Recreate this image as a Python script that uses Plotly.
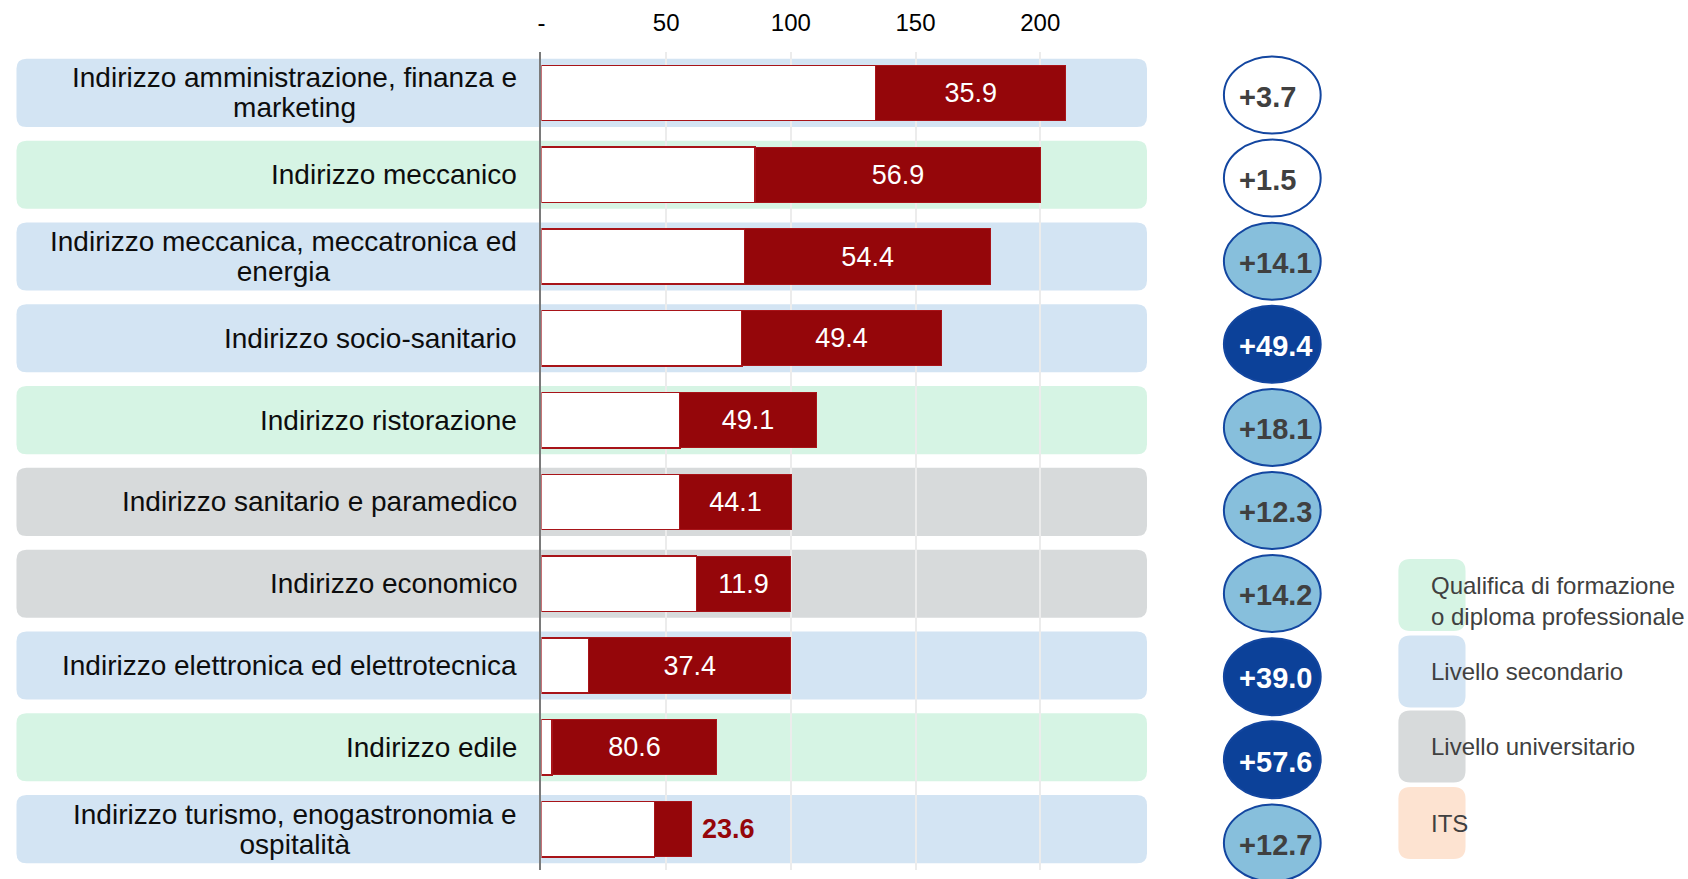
import plotly.graph_objects as go

# ---------------- data ----------------
categories = [
    "Indirizzo amministrazione, finanza e<br>marketing",
    "Indirizzo meccanico",
    "Indirizzo meccanica, meccatronica ed<br>energia",
    "Indirizzo socio-sanitario",
    "Indirizzo ristorazione",
    "Indirizzo sanitario e paramedico",
    "Indirizzo economico",
    "Indirizzo elettronica ed elettrotecnica",
    "Indirizzo edile",
    "Indirizzo turismo, enogastronomia e<br>ospitalità",
]
levels = ["sec", "qual", "sec", "sec", "qual", "univ", "univ", "sec", "qual", "sec"]
white_vals = [134.1, 85.7, 81.5, 80.4, 55.5, 55.5, 62.1, 18.9, 4.3, 45.3]
red_vals = [76.1, 114.6, 98.6, 79.9, 54.6, 44.6, 37.9, 81.1, 66.0, 14.9]
pct_labels = [35.9, 56.9, 54.4, 49.4, 49.1, 44.1, 11.9, 37.4, 80.6, 23.6]
variation = [3.7, 1.5, 14.1, 49.4, 18.1, 12.3, 14.2, 39.0, 57.6, 12.7]
tick_vals = [0, 50, 100, 150, 200]
tick_text = ["-", "50", "100", "150", "200"]

legend_keys = ["qual", "sec", "univ", "its"]
legend_labels = [
    "Qualifica di formazione<br>o diploma professionale",
    "Livello secondario",
    "Livello universitario",
    "ITS",
]

# ---------------- styles ----------------
W, H = 1688, 879
FONT = "Arial, Liberation Sans, sans-serif"
DARK_RED = "#95060a"
level_colors = {"qual": "#d6f4e4", "sec": "#d3e4f3", "univ": "#d7dadb", "its": "#fde3d1"}

X0_PX, X1_PX = 538.7, 1145.7      # plot area (zero at X0)
PX_PER_UNIT = 2.5
Y_TOP, Y_BOT = 52, 870
CIRCLE_STEP = 83.1

n = len(categories)
idx = list(range(n))


def rounded_path(x0, x1, y0, y1, rx, ry):
    return (f"M {x0+rx},{y0} L {x1-rx},{y0} Q {x1},{y0} {x1},{y0+ry} "
            f"L {x1},{y1-ry} Q {x1},{y1} {x1-rx},{y1} L {x0+rx},{y1} "
            f"Q {x0},{y1} {x0},{y1-ry} L {x0},{y0+ry} Q {x0},{y0} {x0+rx},{y0} Z")


fig = go.Figure()

# white part
fig.add_trace(go.Bar(
    y=idx, x=white_vals, orientation="h", width=0.676,
    marker=dict(color="white", line=dict(color="#a81419", width=1.5)),
    hoverinfo="skip", xaxis="x", yaxis="y",
))

# red part with labels
texts, tpos, tcolors = [], [], []
for i, v in enumerate(pct_labels):
    if i == n - 1:
        texts.append(f"\u00a0<b>{v:.1f}</b>")
        tpos.append("outside")
        tcolors.append(DARK_RED)
    else:
        texts.append(f"{v:.1f}")
        tpos.append("inside")
        tcolors.append("white")

fig.add_trace(go.Bar(
    y=idx, x=red_vals, orientation="h", width=0.676,
    marker=dict(color=DARK_RED, line=dict(color="#a81419", width=1)),
    text=texts, textposition=tpos, insidetextanchor="middle",
    textfont=dict(family=FONT, size=27, color=tcolors),
    outsidetextfont=dict(family=FONT, size=27, color=DARK_RED),
    constraintext="none", cliponaxis=False,
    hoverinfo="skip", xaxis="x", yaxis="y",
))

# circles with variation
circle_fill, circle_text_col = [], []
for v in variation:
    if v < 10:
        circle_fill.append("white"); circle_text_col.append("#404040")
    elif v < 30:
        circle_fill.append("#87bfdc"); circle_text_col.append("#404040")
    else:
        circle_fill.append("#0c4199"); circle_text_col.append("white")

text_dy = 4.5 / CIRCLE_STEP  # text sits slightly below ellipse centre
fig.add_trace(go.Scatter(
    x=[38.0] * n, y=[i + text_dy for i in idx], mode="text",
    text=[f"+{v:.1f}" for v in variation],
    textposition="middle right",
    textfont=dict(family=FONT, size=29, color=circle_text_col, weight="bold"),
    hoverinfo="skip", xaxis="x2", yaxis="y2", cliponaxis=False,
))

shapes = []
# row backgrounds
rx = 10 / W
ry = 10 / ((Y_BOT - Y_TOP) / n)
for i, lv in enumerate(levels):
    shapes.append(dict(
        type="path", xref="paper", yref="y",
        path=rounded_path(12.5 / W, 1145.7 / W, i - 0.416, i + 0.416, rx, ry),
        fillcolor=level_colors[lv], line=dict(width=0), layer="below",
    ))

# ellipses
for i in idx:
    shapes.append(dict(
        type="circle", xref="x2", yref="y2",
        x0=71.3 - 48.5, x1=71.3 + 48.5, y0=i - 0.463, y1=i + 0.463,
        fillcolor=circle_fill[i], line=dict(color="#1346a0", width=2), layer="below",
    ))

# legend squares
leg_tops = [559, 635.5, 710.5, 787]
leg_text_dy = [6, 0, 0, 0]
leg_h = 72
annotations = []
for k, key in enumerate(legend_keys):
    t, b = leg_tops[k], leg_tops[k] + leg_h
    shapes.append(dict(
        type="path", xref="paper", yref="paper",
        path=rounded_path(1397.7 / W, 1465 / W, 1 - t / H, 1 - b / H, 12 / W, -12 / H),
        fillcolor=level_colors[key], line=dict(width=0), layer="above",
    ))
    annotations.append(dict(
        xref="paper", yref="paper", x=1428 / W,
        y=1 - ((t + b) / 2 + leg_text_dy[k]) / H,
        xanchor="left", yanchor="middle", align="left", showarrow=False,
        text=legend_labels[k], font=dict(family=FONT, size=24, color="#404040"),
    ))

# category labels (tighter line spacing: base size 23 -> 30px lines, glyphs at 28px)
for i, c in enumerate(categories):
    txt = "<br>".join(f"<span style='font-size:28px'>{ln}</span>" for ln in c.split("<br>"))
    annotations.append(dict(
        xref="paper", yref="y", x=516 / W, y=i,
        xanchor="right", yanchor="middle", align="center", showarrow=False,
        text=txt, font=dict(family=FONT, size=23, color="#0d0d0d"),
    ))

fig.update_layout(
    width=W, height=H, autosize=False,
    margin=dict(l=0, r=0, t=0, b=0),
    paper_bgcolor="white", plot_bgcolor="rgba(0,0,0,0)",
    barmode="stack", bargap=0.3, showlegend=False,
    shapes=shapes, annotations=annotations,
    xaxis=dict(
        domain=[X0_PX / W, X1_PX / W],
        range=[0, (X1_PX - X0_PX) / PX_PER_UNIT],
        side="top", tickvals=tick_vals, ticktext=tick_text,
        ticks="outside", ticklen=10, tickcolor="rgba(0,0,0,0)",
        tickfont=dict(family=FONT, size=24, color="#000000"),
        showgrid=True, gridcolor="#ececec", gridwidth=2,
        zeroline=False, showline=False, anchor="y", fixedrange=True,
    ),
    yaxis=dict(
        domain=[1 - Y_BOT / H, 1 - Y_TOP / H],
        range=[n - 0.5, -0.5], showticklabels=False, showgrid=False,
        zeroline=False, showline=True, linecolor="#7a7a7a", linewidth=2,
        ticks="", anchor="x", fixedrange=True,
    ),
    xaxis2=dict(domain=[1200 / W, 1340 / W], range=[0, 140], visible=False,
                anchor="y2", fixedrange=True),
    yaxis2=dict(domain=[0, 1], range=[(H - 95) / CIRCLE_STEP, -95 / CIRCLE_STEP],
                visible=False, anchor="x2", fixedrange=True),
)

fig.write_html(
    "out.html",
    config={"displayModeBar": False, "staticPlot": True},
    post_script="document.body.style.margin='0px';document.body.style.padding='0px';",
)
